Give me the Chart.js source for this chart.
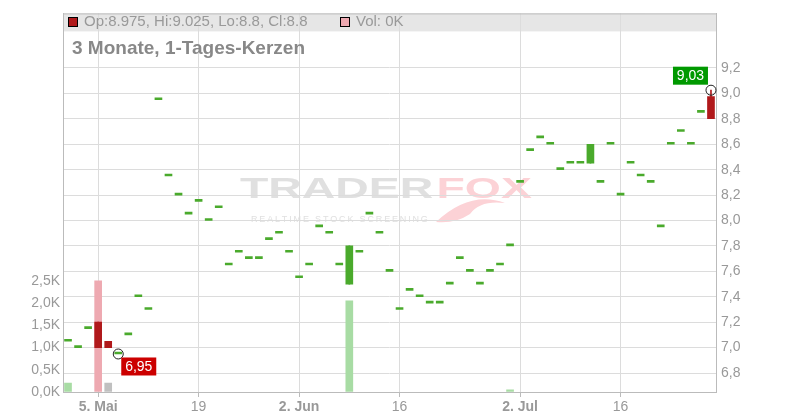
<!DOCTYPE html>
<html>
<head>
<meta charset="utf-8">
<script src="https://cdn.jsdelivr.net/npm/chart.js@4.4.1/dist/chart.umd.min.js"></script>
<style>
    body { margin: 0; background: #fff; }
    canvas { display: block; }
</style>
</head>
<body>
<canvas id="myChart" width="800" height="420"></canvas>
<script>
// trading days (x categories)
const dates = [
    '2025-04-29', '2025-04-30', '2025-05-02',
    '2025-05-05', '2025-05-06', '2025-05-07', '2025-05-08', '2025-05-09',
    '2025-05-12', '2025-05-13', '2025-05-14', '2025-05-15', '2025-05-16',
    '2025-05-19', '2025-05-20', '2025-05-21', '2025-05-22', '2025-05-23',
    '2025-05-26', '2025-05-27', '2025-05-28', '2025-05-29', '2025-05-30',
    '2025-06-02', '2025-06-03', '2025-06-04', '2025-06-05', '2025-06-06',
    '2025-06-09', '2025-06-10', '2025-06-11', '2025-06-12', '2025-06-13',
    '2025-06-16', '2025-06-17', '2025-06-18', '2025-06-19', '2025-06-20',
    '2025-06-23', '2025-06-24', '2025-06-25', '2025-06-26', '2025-06-27',
    '2025-06-30', '2025-07-01', '2025-07-02', '2025-07-03', '2025-07-04',
    '2025-07-07', '2025-07-08', '2025-07-09', '2025-07-10', '2025-07-11',
    '2025-07-14', '2025-07-15', '2025-07-16', '2025-07-17', '2025-07-18',
    '2025-07-21', '2025-07-22', '2025-07-23', '2025-07-24', '2025-07-25',
    '2025-07-28', '2025-07-29'
];
const opens = [
    7.05, 7.0, 7.15,
    7.2, 7.05, 6.95, 7.1, 7.4,
    7.3, 8.95, 8.35, 8.2, 8.05,
    8.15, 8.0, 8.1, 7.65, 7.75,
    7.7, 7.7, 7.85, 7.9, 7.75,
    7.55, 7.65, 7.95, 7.9, 7.65,
    7.5, 7.75, 8.05, 7.9, 7.6,
    7.3, 7.45, 7.4, 7.35, 7.35,
    7.5, 7.7, 7.6, 7.5, 7.6,
    7.65, 7.8, 8.3, 8.55, 8.65,
    8.6, 8.4, 8.45, 8.45, 8.45,
    8.3, 8.6, 8.2, 8.45, 8.35,
    8.3, 7.95, 8.6, 8.7, 8.6,
    8.85, 8.975
];
const closes = [
    7.05, 7.0, 7.15,
    7.0, 7.0, 6.95, 7.1, 7.4,
    7.3, 8.95, 8.35, 8.2, 8.05,
    8.15, 8.0, 8.1, 7.65, 7.75,
    7.7, 7.7, 7.85, 7.9, 7.75,
    7.55, 7.65, 7.95, 7.9, 7.65,
    7.8, 7.75, 8.05, 7.9, 7.6,
    7.3, 7.45, 7.4, 7.35, 7.35,
    7.5, 7.7, 7.6, 7.5, 7.6,
    7.65, 7.8, 8.3, 8.55, 8.65,
    8.6, 8.4, 8.45, 8.45, 8.6,
    8.3, 8.6, 8.2, 8.45, 8.35,
    8.3, 7.95, 8.6, 8.7, 8.6,
    8.85, 8.8
];
const highs = [
    7.05, 7.0, 7.15,
    7.2, 7.05, 6.95, 7.1, 7.4,
    7.3, 8.95, 8.35, 8.2, 8.05,
    8.15, 8.0, 8.1, 7.65, 7.75,
    7.7, 7.7, 7.85, 7.9, 7.75,
    7.55, 7.65, 7.95, 7.9, 7.65,
    7.8, 7.75, 8.05, 7.9, 7.6,
    7.3, 7.45, 7.4, 7.35, 7.35,
    7.5, 7.7, 7.6, 7.5, 7.6,
    7.65, 7.8, 8.3, 8.55, 8.65,
    8.6, 8.4, 8.45, 8.45, 8.6,
    8.3, 8.6, 8.2, 8.45, 8.35,
    8.3, 7.95, 8.6, 8.7, 8.6,
    8.85, 9.025
];
const lows = [
    7.05, 7.0, 7.15,
    7.0, 7.0, 6.95, 7.1, 7.4,
    7.3, 8.95, 8.35, 8.2, 8.05,
    8.15, 8.0, 8.1, 7.65, 7.75,
    7.7, 7.7, 7.85, 7.9, 7.75,
    7.55, 7.65, 7.95, 7.9, 7.65,
    7.5, 7.75, 8.05, 7.9, 7.6,
    7.3, 7.45, 7.4, 7.35, 7.35,
    7.5, 7.7, 7.6, 7.5, 7.6,
    7.65, 7.8, 8.3, 8.55, 8.65,
    8.6, 8.4, 8.45, 8.45, 8.45,
    8.3, 8.6, 8.2, 8.45, 8.35,
    8.3, 7.95, 8.6, 8.7, 8.6,
    8.85, 8.8
];
const volumes = [
    200, 0, 0,
    2500, 200, 0, 0, 0,
    0, 0, 0, 0, 0,
    0, 0, 0, 0, 0,
    0, 0, 0, 0, 0,
    0, 0, 0, 0, 0,
    2050, 0, 0, 0, 0,
    0, 0, 0, 0, 0,
    0, 0, 0, 0, 0,
    0, 50, 0, 0, 0,
    0, 0, 0, 0, 0,
    0, 0, 0, 0, 0,
    0, 0, 0, 0, 0,
    0, 0
];

const tickDates = ['2025-05-05', '2025-05-19', '2025-06-02', '2025-06-16', '2025-07-02', '2025-07-16'];
const tickTexts = ['5. Mai', '19', '2. Jun', '16', '2. Jul', '16'];
const boldTicks = [true, false, true, false, true, false];
const priceTicks = [6.8, 7.0, 7.2, 7.4, 7.6, 7.8, 8.0, 8.2, 8.4, 8.6, 8.8, 9.0, 9.2];
const volTicks = [0, 500, 1000, 1500, 2000, 2500];

// min / max markers
const markDates = ['2025-05-07', '2025-07-29'];
const markValues = [6.95, 9.025];
const markTexts = ['6,95', '9,03'];

const GREEN = '#4aaa2c';
const RED = '#b0191b';
const FONT = '"Liberation Sans", Arial, sans-serif';

Chart.defaults.font.family = FONT;
Chart.defaults.color = '#999';

const candleColors = closes.map((c, i) => c >= opens[i] ? GREEN : RED);
const volColors = closes.map((c, i) => {
    if (i === 0 || c > closes[i - 1]) return '#a8dca4';
    if (c < closes[i - 1]) return '#eea9b1';
    return '#c0c0c0';
});
const tickIndex = (i) => tickDates.indexOf(dates[i]);

const decor = {
    id: 'decor',
    beforeDraw(chart) {
        const {ctx, chartArea: a} = chart;
        ctx.save();
        // header band
        ctx.fillStyle = '#e6e6e6';
        ctx.fillRect(a.left, a.top, a.right - a.left, 18);

        // watermark
        ctx.textBaseline = 'alphabetic';
        ctx.font = 'bold 29px ' + FONT;
        ctx.save();
        ctx.translate(240, 198);
        ctx.scale(1.6, 1);
        ctx.fillStyle = '#e0e0e0';
        ctx.fillText('TRADER', 0, 0);
        const w = ctx.measureText('TRADER').width;
        ctx.fillStyle = '#fcd2d6';
        ctx.fillText('FOX', w + 2, 0);
        ctx.restore();

        ctx.fillStyle = '#fcd2d6';
        ctx.beginPath();
        ctx.moveTo(436, 222);
        ctx.quadraticCurveTo(470, 190, 505, 203);
        ctx.quadraticCurveTo(480, 200, 470, 214);
        ctx.quadraticCurveTo(455, 224, 436, 222);
        ctx.fill();

        ctx.font = '9px ' + FONT;
        ctx.fillStyle = '#e0e0e0';
        const tag = 'REALTIME STOCK SCREENING';
        const tw = ctx.measureText(tag).width;
        const gap = (176 - tw) / (tag.length - 1);
        let x = 251;
        for (const ch of tag) {
            ctx.fillText(ch, x, 222);
            x += ctx.measureText(ch).width + gap;
        }
        ctx.restore();
    },
    afterDraw(chart) {
        const {ctx, chartArea: a, scales} = chart;
        ctx.save();
        // top border
        ctx.strokeStyle = '#bbb';
        ctx.lineWidth = 1;
        ctx.beginPath();
        ctx.moveTo(a.left, a.top + 0.5);
        ctx.lineTo(a.right, a.top + 0.5);
        ctx.stroke();

        // legend in header band
        const last = closes.length - 1;
        ctx.fillStyle = RED;
        ctx.fillRect(68.5, 17.5, 9, 9);
        ctx.strokeStyle = '#000';
        ctx.strokeRect(68.5, 17.5, 9, 9);
        ctx.fillStyle = '#eea9b1';
        ctx.fillRect(340.5, 17.5, 9, 9);
        ctx.strokeRect(340.5, 17.5, 9, 9);
        ctx.font = '15px ' + FONT;
        ctx.fillStyle = '#999';
        ctx.textBaseline = 'middle';
        ctx.fillText('Op:' + opens[last] + ', Hi:' + highs[last] + ', Lo:' + lows[last] + ', Cl:' + closes[last], 84, 22);
        ctx.fillText('Vol: ' + Math.round(volumes[last] / 1000) + 'K', 356, 22);

        // title
        ctx.font = 'bold 19px ' + FONT;
        ctx.fillStyle = '#888';
        ctx.textBaseline = 'alphabetic';
        ctx.fillText('3 Monate, 1-Tages-Kerzen', 72, 54);

        // marker labels
        ctx.font = '14px ' + FONT;
        ctx.textAlign = 'center';
        ctx.textBaseline = 'middle';
        markDates.forEach((d, k) => {
            const px = scales.x.getPixelForValue(dates.indexOf(d));
            const py = scales.y.getPixelForValue(markValues[k]);
            let bx, by;
            if (k === 0) {
                bx = px + 3; by = py + 3.5;
                ctx.fillStyle = '#cc0000';
            } else {
                bx = px - 38; by = py - 23.5;
                ctx.fillStyle = '#009900';
            }
            ctx.fillRect(bx, by, 35, 18);
            ctx.fillStyle = '#fff';
            ctx.fillText(markTexts[k], bx + 17.5, by + 9.5);
        });
        ctx.restore();
    }
};

const ctx = document.getElementById('myChart').getContext('2d');
const myChart = new Chart(ctx, {
    type: 'bar',
    data: {
        labels: dates,
        datasets: [{
            type: 'line',
            data: dates.map(d => {
                const k = markDates.indexOf(d);
                return k >= 0 ? markValues[k] : null;
            }),
            yAxisID: 'y',
            showLine: false,
            pointRadius: 5,
            pointBackgroundColor: 'rgba(0,0,0,0)',
            pointBorderColor: '#222',
            pointBorderWidth: 1,
            order: 0
        }, {
            data: opens.map((o, i) => [o, closes[i]]),
            yAxisID: 'y',
            backgroundColor: candleColors,
            barThickness: 7,
            minBarLength: 2,
            grouped: false,
            order: 1
        }, {
            // wicks, only where high/low stick out of the body
            data: lows.map((l, i) => l === highs[i] ? null : [l, highs[i]]),
            yAxisID: 'y',
            backgroundColor: candleColors,
            barThickness: 1,
            grouped: false,
            order: 2
        }, {
            data: volumes.map(v => v > 0 ? v : null),
            yAxisID: 'vol',
            backgroundColor: volColors,
            barThickness: 7,
            grouped: false,
            order: 3
        }]
    },
    options: {
        responsive: false,
        animation: false,
        devicePixelRatio: 1,
        layout: { padding: { top: 12, left: 0, right: 0, bottom: 0 } },
        plugins: {
            legend: { display: false },
            tooltip: { enabled: false }
        },
        scales: {
            x: {
                type: 'category',
                offset: true,
                afterFit: (s) => { s.height = 28; },
                grid: {
                    offset: false,
                    color: (c) => tickIndex(c.index) >= 0 ? '#dcdcdc' : 'rgba(0,0,0,0)',
                    tickColor: (c) => tickIndex(c.index) >= 0 ? '#bbb' : 'rgba(0,0,0,0)',
                    tickLength: 5
                },
                border: { color: '#bbb' },
                ticks: {
                    autoSkip: false,
                    maxRotation: 0,
                    padding: 2,
                    color: '#999',
                    font: (c) => ({ size: 14, weight: boldTicks[tickIndex(c.index)] ? 'bold' : 'normal' }),
                    callback: (v, i) => tickIndex(i) >= 0 ? tickTexts[tickIndex(i)] : ''
                }
            },
            y: {
                position: 'right',
                min: 6.651,
                max: 9.629,
                afterFit: (s) => { s.width = 84; },
                afterBuildTicks: (s) => {
                    s.ticks = priceTicks.map(v => ({ value: v }));
                },
                grid: { color: '#dcdcdc', drawTicks: false },
                border: { color: '#bbb' },
                ticks: {
                    padding: 5,
                    color: '#999',
                    font: { size: 14 },
                    callback: (v) => v.toFixed(1).replace('.', ',')
                }
            },
            vol: {
                position: 'left',
                min: 0,
                max: 8520,
                afterFit: (s) => { s.width = 63; },
                afterBuildTicks: (s) => {
                    s.ticks = volTicks.map(v => ({ value: v }));
                },
                grid: { drawOnChartArea: false, drawTicks: false },
                border: { color: '#bbb' },
                ticks: {
                    padding: 3,
                    color: '#999',
                    font: { size: 14 },
                    callback: (v) => (v / 1000).toFixed(1).replace('.', ',') + 'K'
                }
            }
        }
    },
    plugins: [decor]
});
</script>
</body>
</html>
